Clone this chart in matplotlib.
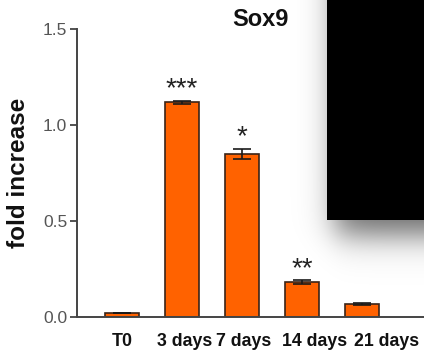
import numpy as np
import matplotlib
matplotlib.use("Agg")
import matplotlib.pyplot as plt
import matplotlib.transforms as mtransforms

categories = ["T0", "3 days", "7 days", "14 days", "21 days"]
values = [0.018, 1.118, 0.850, 0.181, 0.068]
errors = [0.0, 0.010, 0.027, 0.010, 0.005]
signif = ["", "***", "*", "**", ""]
title = "Sox9"
ylabel = "fold increase"
yticks = [0.0, 0.5, 1.0, 1.5]
ytick_labels = ["0.0", "0.5", "1.0", "1.5"]

# horizontal nudges (pixels) of the category labels, as laid out in the reference
label_nudge_px = [0, 2.5, 2, 12, 24]

plt.rcParams['font.family'] = ['Liberation Sans', 'DejaVu Sans']

W, H = 424, 352
fig = plt.figure(figsize=(W / 100, H / 100), dpi=100)
ax = fig.add_axes([77 / W, 1 - 316.7 / H, 1 - 77 / W, (316.7 - 29.3) / H])

x = np.arange(len(categories))
ax.bar(x, values, width=0.56, color="#FF6200", edgecolor="#3b2418", linewidth=1.2, zorder=2)
ax.errorbar(x, values, yerr=errors, fmt="none", ecolor="#1a1a1a", elinewidth=1.2,
            capsize=6.5, capthick=1.2, zorder=3)
for xi, v, e, s in zip(x, values, errors, signif):
    if s:
        ax.text(xi, v + e + 0.022, s, ha="center", va="baseline", fontsize=20,
                color="#222222")

ax.set_xlim(-0.75, 5.03)
ax.set_ylim(0, 1.5)
ax.set_yticks(yticks)
ax.set_yticklabels(ytick_labels)
ax.set_xticks(x)
ax.set_xticklabels([])
ax.tick_params(axis="x", length=0)
ax.tick_params(axis="y", length=5, width=1.3, color="#444444", labelcolor="#555555",
               labelsize=12.5, pad=2)
for sp in ["top", "right"]:
    ax.spines[sp].set_visible(False)
for sp in ["left", "bottom"]:
    ax.spines[sp].set_color("#444444")
    ax.spines[sp].set_linewidth(1.4)

base = mtransforms.blended_transform_factory(ax.transData, ax.transAxes)
for xi, lab, dx in zip(x, categories, label_nudge_px):
    tr = base + mtransforms.ScaledTranslation(dx / 100, -29.5 / 100, fig.dpi_scale_trans)
    ax.text(xi, 0, lab, transform=tr, ha="center", va="baseline", fontsize=12.8,
            fontweight="bold", color="#111111", clip_on=False)

ax.set_ylabel(ylabel, fontweight="bold", fontsize=17.5, color="#111111", labelpad=9)
fig.text(260 / W, 1 - 20 / H, title, ha="center", va="center", fontsize=17,
         fontweight="bold", color="#111111")

# occluding black panel with soft shadow (as in the reference picture)
ov = fig.add_axes([0, 0, 1, 1], zorder=10)
ov.set_axis_off()
yy, xx = np.mgrid[0:H, 0:W].astype(float)
sx = 1 / (1 + np.exp(-(xx - 335) / 9.0))
sy = 1 / (1 + np.exp((yy - 234) / 10.0))
alpha = 0.6 * sx * sy
rgba = np.zeros((H, W, 4))
rgba[..., 3] = alpha
inside = (xx >= 327) & (yy <= 219)
rgba[inside, 3] = 1.0
ov.imshow(rgba, extent=[0, W, H, 0], interpolation="bilinear")
ov.set_xlim(0, W)
ov.set_ylim(H, 0)

fig.savefig("out.png", dpi=100)
